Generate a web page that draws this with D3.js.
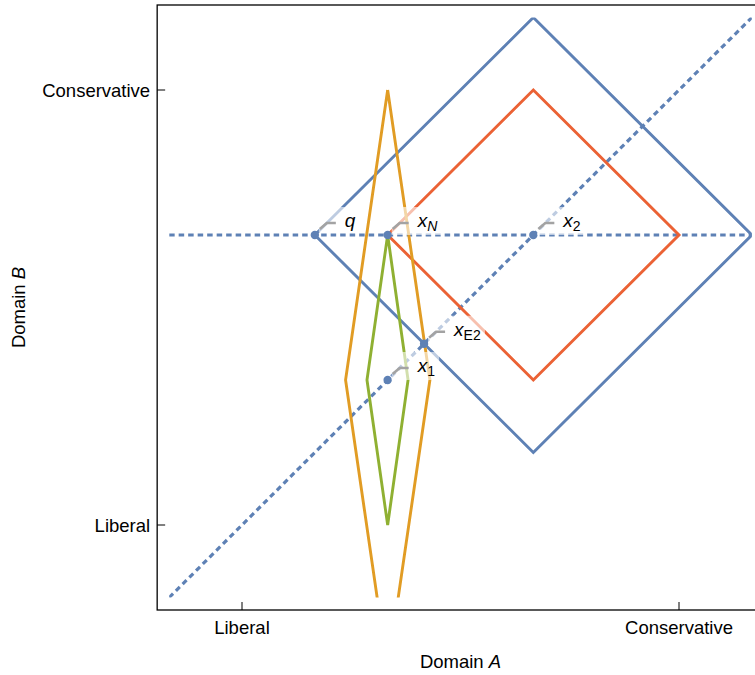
<!DOCTYPE html>
<html><head><meta charset="utf-8">
<script src="https://cdn.jsdelivr.net/npm/d3@7"></script>
<style>body{margin:0;background:#fff}svg{display:block}text{font-family:"Liberation Sans",Arial,sans-serif}</style>
</head><body><svg id="c" width="755" height="675"></svg>
<script>
// ---- data ----
const tickValues = [0, 1];
const tickLabels = ["Liberal", "Conservative"];
const plotMin = -1/6, plotMax = 7/6;

const blueDiamond   = [[1/6, 2/3], [2/3, 7/6], [7/6, 2/3], [2/3, 1/6]];
const redDiamond    = [[1/3, 2/3], [2/3, 1], [1, 2/3], [2/3, 1/3]];
const greenDiamond  = [[1/3, 2/3], [0.380, 1/3], [1/3, 0], [0.286, 1/3]];
const orangeDiamond = [[1/3, 1], [0.430, 1/3], [1/3, -1/3], [0.237, 1/3]];

const hLine = [[-1/6, 2/3], [7/6, 2/3]];
const diagLine = [[-1/6, -1/6], [7/6, 7/6]];

const pointX = [1/6, 1/3, 2/3, 5/12, 1/3];
const pointY = [2/3, 2/3, 2/3, 5/12, 1/3];
const labelMain = ["q", "x", "x", "x", "x"];
const labelSub = ["", "N", "2", "E2", "1"];
const labelSubItalic = [false, true, false, false, false];

// ---- scales ----
const x = d3.scaleLinear().domain([0, 1]).range([242, 679]);
const y = d3.scaleLinear().domain([0, 1]).range([525, 90]);
const svg = d3.select("#c");

const fL = x(plotMin) - 12, fR = x(plotMax) + 12, fT = y(plotMax) - 12.5, fB = y(plotMin) + 12.5;

const colors = {blue: "#5E81B5", orange: "#E19C24", green: "#8FB032", red: "#EB6235"};

svg.append("clipPath").attr("id", "clip").append("rect")
  .attr("x", x(plotMin)).attr("y", y(plotMax))
  .attr("width", x(plotMax) - x(plotMin)).attr("height", y(plotMin) - y(plotMax));

const g = svg.append("g").attr("clip-path", "url(#clip)");
const line = d3.line().x(d => x(d[0])).y(d => y(d[1]));

// dashed lines
[hLine, diagLine].forEach(l => {
  g.append("path").attr("d", line(l)).attr("fill", "none")
    .attr("stroke", colors.blue).attr("stroke-width", 3.2).attr("stroke-dasharray", "5.5,4");
});

function diamond(pts, col) {
  g.append("path").attr("d", line(pts.concat([pts[0]]))).attr("fill", "none")
    .attr("stroke", col).attr("stroke-width", 2.9).attr("stroke-linejoin", "miter");
}
diamond(blueDiamond, colors.blue);
diamond(redDiamond, colors.red);
diamond(orangeDiamond, colors.orange);
diamond(greenDiamond, colors.green);

// points
pointX.forEach((px, i) => {
  svg.append("circle").attr("cx", x(px)).attr("cy", y(pointY[i])).attr("r", 4.2).attr("fill", colors.blue);
});

// labels with leaders
pointX.forEach((px, i) => {
  const cx = x(px), cy = y(pointY[i]);
  const lg = svg.append("g");
  const box = lg.append("rect").attr("fill", "#fff").attr("fill-opacity", 0.6);
  const t = lg.append("text").attr("x", cx + 30).attr("y", cy - 8)
    .attr("font-size", 19);
  t.append("tspan").attr("font-style", "italic").text(labelMain[i]);
  if (labelSub[i]) {
    t.append("tspan").attr("font-size", 14).attr("dy", 4)
      .attr("font-style", labelSubItalic[i] ? "italic" : "normal").text(labelSub[i]);
  }
  const bb = t.node().getBBox();
  box.attr("x", cx + 4).attr("y", bb.y - 3).attr("width", bb.x + bb.width + 4 - (cx + 4)).attr("height", bb.height + 4);
  lg.append("path").attr("d", `M${cx+5},${cy-6}L${cx+12},${cy-12}L${cx+21},${cy-12}`)
    .attr("fill", "none").attr("stroke", "#a3a3a3").attr("stroke-width", 2.6);
  t.raise();
});

// frame
svg.append("rect").attr("x", fL).attr("y", fT).attr("width", fR - fL).attr("height", fB - fT)
  .attr("fill", "none").attr("stroke", "#000").attr("stroke-width", 1.3);

// ticks
tickValues.forEach((v, i) => {
  svg.append("line").attr("x1", x(v)).attr("x2", x(v)).attr("y1", fB).attr("y2", fB - 8)
    .attr("stroke", "#000").attr("stroke-width", 1);
  svg.append("text").attr("x", x(v)).attr("y", fB + 24).attr("text-anchor", "middle")
    .attr("font-size", 18.5).text(tickLabels[i]);
  svg.append("line").attr("x1", fL).attr("x2", fL + 8).attr("y1", y(v)).attr("y2", y(v))
    .attr("stroke", "#000").attr("stroke-width", 1);
  svg.append("text").attr("x", fL - 7).attr("y", y(v) + 7).attr("text-anchor", "end")
    .attr("font-size", 18.5).text(tickLabels[i]);
});

// axis titles
const xt = svg.append("text").attr("x", (fL + fR) / 2).attr("y", 668).attr("text-anchor", "middle").attr("font-size", 18.5);
xt.append("tspan").text("Domain ");
xt.append("tspan").attr("font-style", "italic").text("A");
const yt = svg.append("text").attr("transform", `translate(25,${(fT + fB) / 2}) rotate(-90)`)
  .attr("text-anchor", "middle").attr("font-size", 18.5);
yt.append("tspan").text("Domain ");
yt.append("tspan").attr("font-style", "italic").text("B");
</script></body></html>
